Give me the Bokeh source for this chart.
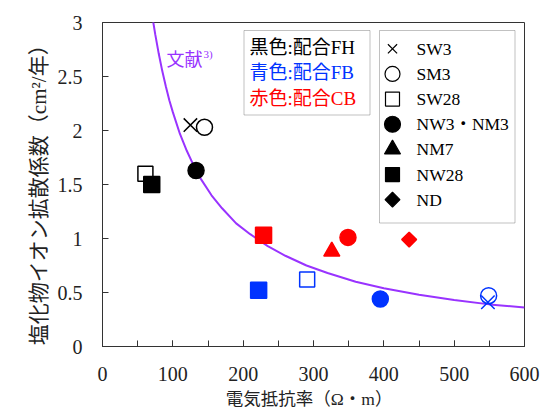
import math
from bokeh.plotting import figure
from bokeh.models import (Label, BoxAnnotation, SingleIntervalTicker,
                          NumeralTickFormatter, Range1d, ColumnDataSource)
from bokeh.embed import file_html
from bokeh.resources import INLINE

# ---------------- data ----------------
fh_type = ["SW3", "SM3", "SW28", "NW3・NM3", "NW28"]
fh_x = [125, 145, 61, 133, 70]
fh_y = [2.05, 2.03, 1.60, 1.63, 1.50]

fb_type = ["SW3", "SM3", "SW28", "NW3・NM3", "NW28"]
fb_x = [548, 549, 291, 395, 222]
fb_y = [0.41, 0.47, 0.62, 0.44, 0.52]

cb_type = ["NW3・NM3", "NM7", "NW28", "ND"]
cb_x = [349, 326, 229, 436]
cb_y = [1.01, 0.88, 1.03, 0.99]

# literature curve (文献3)
ref_x = [72, 75, 80, 85, 90, 95, 100, 110, 120, 130, 140, 155, 170, 190,
         210, 235, 260, 290, 320, 360, 400, 450, 500, 550, 600]
ref_y = [3.01, 2.89, 2.71, 2.55, 2.41, 2.28, 2.17, 1.97, 1.81, 1.67, 1.55,
         1.40, 1.28, 1.14, 1.04, 0.93, 0.84, 0.75, 0.68, 0.60, 0.54, 0.48,
         0.43, 0.39, 0.36]

legend_types = ["SW3", "SM3", "SW28", "NW3・NM3", "NM7", "NW28", "ND"]
mix_labels = ["黒色:配合FH", "青色:配合FB", "赤色:配合CB"]

x_ticks_interval = 100
y_ticks_interval = 0.5
x_title = "電気抵抗率（Ω・m）"
y_title = "塩化物イオン拡散係数（cm²/年）"
ref_label = "文献"
ref_sup = "3)"

# ---------------- styles ----------------
BLACK, BLUE, RED, PURPLE = "#000000", "#0033ff", "#ff0000", "#9933ff"
mix_colors = [BLACK, BLUE, RED]
AXC = "#333333"
SERIF = "Liberation Serif, Noto Sans CJK JP"

STYLE = {
    "SW3":      dict(marker="x", size=19, fill=0.0, angle=0.0),
    "SM3":      dict(marker="circle", size=16, fill=0.0, angle=0.0),
    "SW28":     dict(marker="square", size=15, fill=0.0, angle=0.0),
    "NW3・NM3": dict(marker="circle", size=16, fill=1.0, angle=0.0),
    "NM7":      dict(marker="triangle", size=16, fill=1.0, angle=0.0),
    "NW28":     dict(marker="square", size=16, fill=1.0, angle=0.0),
    "ND":       dict(marker="square", size=10.5, fill=1.0, angle=math.pi / 4),
}
LEG_SIZE = {"SW3": 13, "SM3": 15, "SW28": 14, "NW3・NM3": 16, "NM7": 16,
            "NW28": 14, "ND": 10.5}

X0, X1, Y0, Y1 = 0, 600, 0, 3
FL, FT, FW, FHT = 102, 22, 422, 324   # frame position / size in pixels
W, H = 558, 412

p = figure(width=W, height=H, output_backend="svg", toolbar_location=None,
           x_range=Range1d(X0, X1), y_range=Range1d(Y0, Y1),
           min_border_left=FL, min_border_right=W - FL - FW, min_border_top=FT,
           min_border_bottom=H - FT - FHT)
p.grid.visible = False
p.outline_line_color = AXC
p.outline_line_width = 1
p.background_fill_color = "white"
p.border_fill_color = "white"

p.xaxis.ticker = SingleIntervalTicker(interval=x_ticks_interval, num_minor_ticks=2)
p.yaxis.ticker = SingleIntervalTicker(interval=y_ticks_interval, num_minor_ticks=0)
p.yaxis.formatter = NumeralTickFormatter(format="0.[0]")
for ax in (p.xaxis[0], p.yaxis[0]):
    ax.axis_line_color = AXC
    ax.major_tick_line_color = AXC
    ax.minor_tick_line_color = AXC
    ax.major_tick_in = 6
    ax.major_tick_out = 0
    ax.minor_tick_in = 6
    ax.minor_tick_out = 0
    ax.major_label_text_font = "Liberation Serif"
    ax.major_label_text_font_size = "20px"
    ax.major_label_text_color = "#222222"
    ax.axis_label_text_font = SERIF
    ax.axis_label_text_font_style = "normal"
    ax.axis_label_text_color = "#222222"
p.xaxis.major_label_standoff = 20
p.yaxis.major_label_standoff = 20
p.xaxis.axis_label = x_title + "\u2002"
p.xaxis.axis_label_text_font_size = "17.5px"
p.xaxis.axis_label_standoff = 5
p.yaxis.axis_label = y_title + "\u2002"
p.yaxis.axis_label_text_font_size = "21px"
p.yaxis.axis_label_standoff = 4

# pixel layout helpers (figure origin = page origin)
def dx(px):
    return X0 + (px - FL) / FW * (X1 - X0)
def dy(py):
    return Y0 + (FT + FHT - py) / FHT * (Y1 - Y0)

# legend boxes (drawn under the glyphs)
p.add_layout(BoxAnnotation(left=dx(243.5), right=dx(369.5), top=dy(30), bottom=dy(114.5),
                           fill_color="white", fill_alpha=1, line_color=AXC,
                           line_width=1, level="underlay"))
p.add_layout(BoxAnnotation(left=dx(379), right=dx(514.5), top=dy(30), bottom=dy(222.5),
                           fill_color="white", fill_alpha=1, line_color=AXC,
                           line_width=1, level="underlay"))

# reference curve
p.line(ref_x, ref_y, line_color=PURPLE, line_width=2)

def src(types, xs, ys, color, sizes=None):
    return ColumnDataSource(dict(
        x=xs, y=ys,
        marker=[STYLE[t]["marker"] for t in types],
        size=[(sizes or {}).get(t, STYLE[t]["size"]) for t in types],
        fa=[STYLE[t]["fill"] for t in types],
        angle=[STYLE[t]["angle"] for t in types],
        c=[color] * len(types),
    ))

for types, xs, ys, col in ((fh_type, fh_x, fh_y, BLACK),
                           (fb_type, fb_x, fb_y, BLUE),
                           (cb_type, cb_x, cb_y, RED)):
    p.scatter("x", "y", marker="marker", size="size", angle="angle",
              fill_color="c", fill_alpha="fa", line_color="c", line_width=1.5,
              source=src(types, xs, ys, col))

# marker legend (glyph samples)
leg_rows = [48.3 + i * 25.15 for i in range(len(legend_types))]
leg_src = src(legend_types, [dx(392)] * len(legend_types), [dy(r) for r in leg_rows],
              BLACK, LEG_SIZE)
p.scatter("x", "y", marker="marker", size="size", angle="angle",
          fill_color="c", fill_alpha="fa", line_color="c", line_width=1.2,
          source=leg_src)
for t, r in zip(legend_types, leg_rows):
    p.add_layout(Label(x=dx(416), y=dy(r), text=t, text_font=SERIF,
                       text_font_size="17.5px", text_baseline="middle",
                       text_align="left", text_color=BLACK))

# mix legend (colour meaning)
for i, (t, col) in enumerate(zip(mix_labels, mix_colors)):
    p.add_layout(Label(x=dx(249), y=dy(47 + i * 25.3), text=t, text_font=SERIF,
                       text_font_size="19px", text_baseline="middle",
                       text_align="left", text_color=col))

# curve label
p.add_layout(Label(x=dx(166), y=dy(57.5), text=ref_label, text_font="Noto Sans CJK JP",
                   text_font_size="18px", text_baseline="middle", text_align="left",
                   text_color=PURPLE))
p.add_layout(Label(x=dx(203), y=dy(53), text=ref_sup, text_font="Liberation Serif",
                   text_font_size="11px", text_baseline="middle", text_align="left",
                   text_color=PURPLE))

open("out.html", "w").write(file_html(p, INLINE))
